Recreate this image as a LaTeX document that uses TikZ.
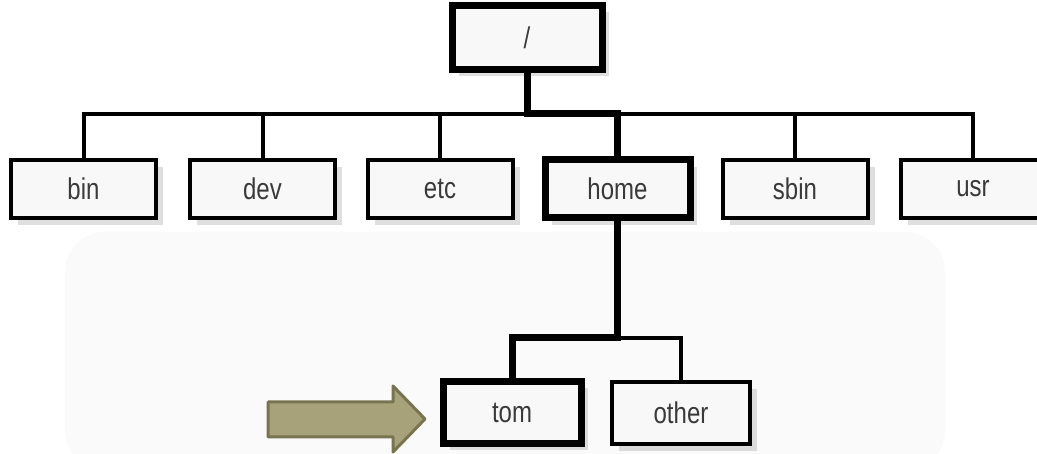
\documentclass[tikz,border=0pt]{standalone}
\usepackage{fontspec}
\setmainfont[FakeStretch=0.8]{Liberation Sans}
\usetikzlibrary{shadows}
\definecolor{txt}{HTML}{3A3A3A}
\definecolor{boxfill}{HTML}{F8F8F8}
\definecolor{arrfill}{HTML}{A7A27A}
\definecolor{arrline}{HTML}{77744F}
\tikzset{
  dirbox/.style={draw=black, line width=4pt, fill=boxfill, minimum width=145pt, minimum height=58pt,
    text=txt, font=\fontsize{30}{33}\selectfont, inner sep=0pt,
    drop shadow={opacity=0.25, shadow xshift=7pt, shadow yshift=-7pt}},
  pathbox/.style={dirbox, line width=7pt},
  conn/.style={draw=black, line width=4pt},
  pathconn/.style={draw=black, line width=7pt, line cap=rect},
}
\begin{document}
\begin{tikzpicture}[x=1pt,y=-1pt]
\clip (0,0) rectangle (1037,454);
\fill[white] (0,0) rectangle (1037,454);
\fill[black!2, rounded corners=40pt] (65,232) rectangle (945,470);
% nodes
\node[pathbox, minimum width=150pt, minimum height=64pt] (root) at (527,37.5) {/};
\node[dirbox] (bin) at (83.5,189) {bin};
\node[dirbox] (dev) at (262.5,189) {dev};
\node[dirbox] (etc) at (440,189) {etc};
\node[pathbox] (home) at (617.5,189) {home};
\node[dirbox] (sbin) at (795,189) {sbin};
\node[dirbox] (usr) at (973,189) {usr};
\node[pathbox, minimum width=138pt, minimum height=62pt] (tom) at (512,412.5) {tom};
\node[dirbox, minimum width=138pt, minimum height=62pt] (other) at (681,413) {other};
\coordinate (bar) at (0,114);
\coordinate (bar2) at (0,338);
% connectors
\draw[conn] (bin.north) -- (bin.north |- bar) -- (usr.north |- bar) -- (usr.north);
\draw[conn] (dev.north) -- (dev.north |- bar);
\draw[conn] (etc.north) -- (etc.north |- bar);
\draw[conn] (sbin.north) -- (sbin.north |- bar);
\draw[pathconn] (root.south) -- (root.south |- bar) -- (home.north |- bar) -- (home.north);
\draw[conn] (home.south |- bar2) -- (other.north |- bar2) -- (other.north);
\draw[pathconn] (home.south) -- (home.south |- bar2) -- (tom.north |- bar2) -- (tom.north);
% arrow
\draw[fill=arrfill, draw=arrline, line width=3pt, line join=round]
  (268,402) -- (393,402) -- (393,386) -- (425,419) -- (393,452) -- (393,437) -- (268,437) -- cycle;
\end{tikzpicture}
\end{document}
